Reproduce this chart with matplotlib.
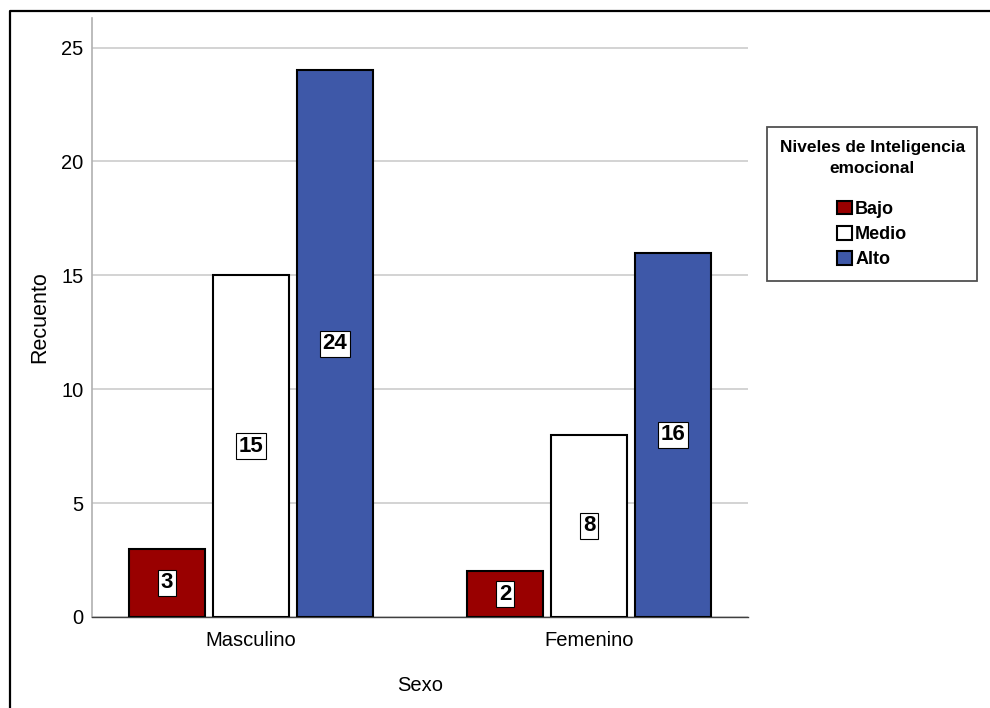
import matplotlib
matplotlib.use("Agg")
import matplotlib.pyplot as plt
import numpy as np
from matplotlib.lines import Line2D

plt.rcParams["font.family"] = "Liberation Sans"

sexo = ["Masculino", "Femenino"]
niveles = ["Bajo", "Medio", "Alto"]
bajo = [3, 2]
medio = [15, 8]
alto = [24, 16]
colores = ["#990000", "#ffffff", "#3e58a8"]
yticks = [0, 5, 10, 15, 20, 25]

fig = plt.figure(figsize=(9.9, 7.08), dpi=100)
ax = fig.add_axes([92 / 990, 1 - 617 / 708, 656 / 990, 599 / 708])

# outer frame (only left and top edges visible in the screenshot)
fig.add_artist(Line2D([10 / 990, 10 / 990, 1.0], [0.0, 1 - 11 / 708, 1 - 11 / 708],
                      transform=fig.transFigure, color="black", lw=1.6))

x = np.arange(len(sexo))
offs = [-0.248, 0.0, 0.248]
width = 0.224
for serie, nombre, col, off in zip([bajo, medio, alto], niveles, colores, offs):
    ax.bar(x + off, serie, width=width, color=col, edgecolor="black", linewidth=1.5,
           label=nombre, zorder=3)
    for xi, v in zip(x + off, serie):
        ax.text(xi, v / 2, str(v), ha="center", va="center", fontsize=16, fontweight="bold",
                zorder=4,
                bbox=dict(boxstyle="square,pad=0.12", fc="white", ec="black", lw=0.8))

ax.set_xlim(-0.469, 1.469)
ax.set_ylim(0, 26.3)
ax.set_yticks(yticks)
ax.set_xticks(x)
ax.set_xticklabels(sexo)
ax.tick_params(axis="both", length=0)
ax.tick_params(axis="x", pad=10, labelsize=14.5)
ax.tick_params(axis="y", pad=6, labelsize=14.5)
ax.grid(axis="y", color="#d0d0d0", lw=1.3, zorder=0)
ax.set_axisbelow(True)
for s in ["top", "right"]:
    ax.spines[s].set_visible(False)
ax.spines["left"].set_color("#b0b0b0")
ax.spines["left"].set_linewidth(1.2)
ax.spines["bottom"].set_color("#404040")
ax.spines["bottom"].set_linewidth(1.0)

ax.set_ylabel("Recuento", fontsize=15.5, va="center")
ax.yaxis.set_label_coords(-0.079, 0.5)
ax.set_xlabel("Sexo", fontsize=14.5, va="center")
ax.xaxis.set_label_coords(0.5, -0.115)

leg = ax.legend(title="Niveles de Inteligencia\nemocional", loc="upper left",
                bbox_to_anchor=(1.029, 0.818), borderaxespad=0,
                prop={"weight": "bold", "size": 13},
                title_fontproperties={"weight": "bold", "size": 12.4},
                fancybox=False, framealpha=1, edgecolor="#505050",
                handlelength=0.8, handleheight=0.8, handletextpad=0.2,
                labelspacing=0.45, borderpad=0.7)
leg.get_frame().set_linewidth(1.3)
leg.get_title().set_multialignment("center")
leg.get_title().set_linespacing(1.5)
leg._legend_box.sep = 18  # extra room between title and entries

fig.savefig("out.png", dpi=100)
